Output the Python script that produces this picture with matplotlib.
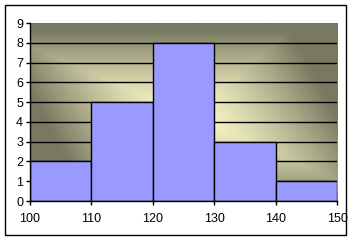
import numpy
from matplotlib import pyplot as plt
from matplotlib.colors import LinearSegmentedColormap
from matplotlib.patches import Rectangle

# histogram data
bin_edges = [100, 110, 120, 130, 140, 150]
counts = [2, 5, 8, 3, 1]
yticks = list(range(0, 10))

plt.rcParams['font.family'] = ['Liberation Sans', 'DejaVu Sans']

W, H = 357, 240
fig = plt.figure(figsize=(W / 100, H / 100), dpi=100)
fig.patch.set_facecolor('white')

# chart border
fig.patches.append(Rectangle((5 / W, 5 / H), 341 / W, 230 / H, transform=fig.transFigure,
                             fill=False, edgecolor='black', linewidth=1.0))

ax = fig.add_axes([30 / W, (H - 201) / H, (337 - 30) / W, (201 - 23) / H])

# skewed "from center" gradient background of plot area
gx, gy = numpy.meshgrid(numpy.linspace(100, 150, 400), numpy.linspace(0, 9, 240))
cx, cy = 126.0, 4.3
dx = (gx - cx) + 1.8 * (gy - cy)
dy = gy - cy
d = numpy.maximum(numpy.abs(dx) / 24.0, numpy.abs(dy) / 4.3)
t = numpy.clip(d, 0, 1) ** 1.4
cmap = LinearSegmentedColormap.from_list('bg', ['#FAF8C8', '#797961'])
ax.imshow(t, extent=(100, 150, 0, 9), origin='lower', aspect='auto', cmap=cmap,
          vmin=0, vmax=1, zorder=0, interpolation='bilinear')

# gridlines
for v in yticks[1:-1]:
    ax.axhline(v, color='black', linewidth=1.0, zorder=1)

widths = numpy.diff(bin_edges)
ax.bar(bin_edges[:-1], counts, width=widths, align='edge', color='#9999FF',
       edgecolor='black', linewidth=1.0, zorder=2)

ax.set_xlim(100, 150)
ax.set_ylim(0, 9)
ax.set_xticks(bin_edges)
ax.set_yticks(yticks)
ax.tick_params(labelsize=9, length=3, width=1.0, direction='out', pad=2)
ax.tick_params(axis='x', pad=6)
for side in ['top', 'right']:
    ax.spines[side].set_visible(False)
for side in ['left', 'bottom']:
    ax.spines[side].set_linewidth(1.0)

fig.savefig('out.png', dpi=100)
